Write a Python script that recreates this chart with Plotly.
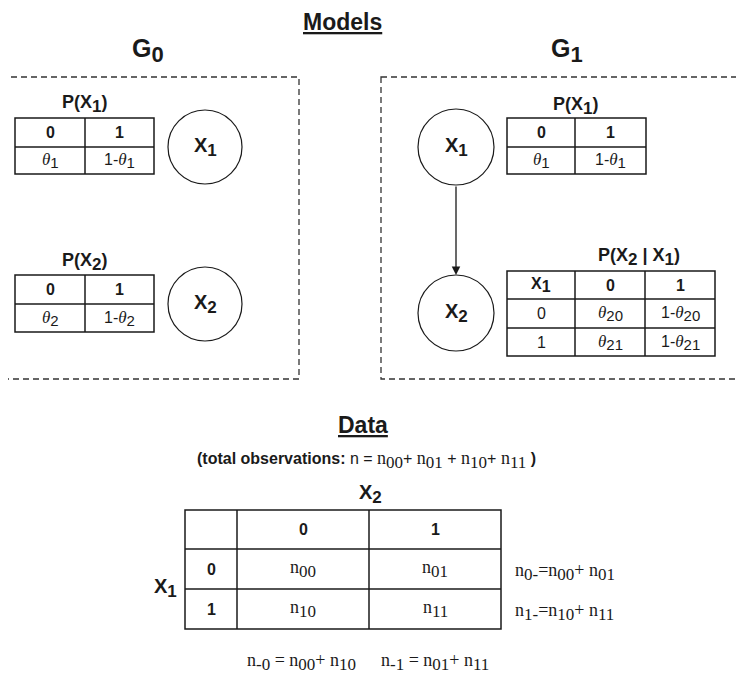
import plotly.graph_objects as go

SANS = "Liberation Sans, Arial, sans-serif"
SERIF = "Liberation Serif, Times New Roman, serif"
INK = "#1a1a1a"
PAGE_PAD = 8  # browser body margin


def sub(s, size=None):
    if size:
        return f'<sub><span style="font-size:{size}px">{s}</span></sub>'
    return f"<sub>{s}</sub>"


def theta(idx, one_minus=False):
    t = f'<span style="font-family:{SERIF};font-size:17px"><i>θ</i></span>{sub(idx, 15)}'
    return ("1-" + t) if one_minus else t


def nn(idx):
    return f'<span style="font-family:{SERIF};font-size:18px">n{sub(idx, 17)}</span>'


# ---- content ----
binary_header = ["<b>0</b>", "<b>1</b>"]
g0_x1_params = [theta("1"), theta("1", True)]
g0_x2_params = [theta("2"), theta("2", True)]
g1_x1_params = [theta("1"), theta("1", True)]
cpt_header = [f"<b>X{sub('1', 16)}</b>", "<b>0</b>", "<b>1</b>"]
cpt_rows = [
    ["0", theta("20"), theta("20", True)],
    ["1", theta("21"), theta("21", True)],
]
count_header = ["", "<b>0</b>", "<b>1</b>"]
count_rows = [
    ["<b>0</b>", nn("00"), nn("01")],
    ["<b>1</b>", nn("10"), nn("11")],
]
row_totals = [
    f"{nn('0-')}={nn('00')}+ {nn('01')}",
    f"{nn('1-')}={nn('10')}+ {nn('11')}",
]
col_totals = [
    f"{nn('-0')} = {nn('00')}+ {nn('10')}",
    f"{nn('-1')} = {nn('01')}+ {nn('11')}",
]
total_line = (f"<b>(total observations:</b> n = "
              f'{nn("00")}+ {nn("01")} + {nn("10")}+ {nn("11")} <b>)</b>')

fig = go.Figure()
shapes = []
annotations = []


def label(x, y, text, size=14, family=SANS, xanchor="center", yanchor="middle"):
    annotations.append(dict(x=x, y=y, xref="x", yref="y", text=text, showarrow=False,
                            xanchor=xanchor, yanchor=yanchor,
                            font=dict(size=size, family=family, color=INK)))


def table(xs, ys, rows, size=16):
    shapes.append(dict(type="rect", x0=xs[0], x1=xs[-1], y0=ys[0], y1=ys[-1],
                       line=dict(color=INK, width=1.5)))
    for x in xs[1:-1]:
        shapes.append(dict(type="line", x0=x, x1=x, y0=ys[0], y1=ys[-1],
                           line=dict(color=INK, width=1.5)))
    for y in ys[1:-1]:
        shapes.append(dict(type="line", x0=xs[0], x1=xs[-1], y0=y, y1=y,
                           line=dict(color=INK, width=1.5)))
    for r, row in enumerate(rows):
        for c, txt in enumerate(row):
            if txt:
                label((xs[c] + xs[c + 1]) / 2, (ys[r] + ys[r + 1]) / 2, txt, size)


def node(cx, cy, r, text):
    shapes.append(dict(type="circle", x0=cx - r, x1=cx + r, y0=cy - r, y1=cy + r,
                       line=dict(color=INK, width=1.2)))
    label(cx, cy, f"<b>X{sub(text, 17)}</b>", 20)


# dashed model boxes
for x0, x1 in [(1, 299), (381, 742)]:
    shapes.append(dict(type="rect", x0=x0, x1=x1, y0=77, y1=379,
                       line=dict(color="#333333", width=1.3, dash="6px,4px")))

label(342, 22, "<b><u>Models</u></b>", 23)
label(148, 50, f"<b>G{sub('0', 22)}</b>", 25)
label(567, 50, f"<b>G{sub('1', 22)}</b>", 25)

# G0
label(84, 104, f"<b>P(X{sub('1', 17)})</b>", 18)
table([15, 85, 154], [118, 147, 174], [binary_header, g0_x1_params])
node(205, 147, 37, "1")
label(84, 262, f"<b>P(X{sub('2', 17)})</b>", 18)
table([15, 85, 154], [275, 304, 332], [binary_header, g0_x2_params])
node(205, 304, 37, "2")

# G1
node(456, 147, 38, "1")
node(456, 313, 38, "2")
annotations.append(dict(x=456, y=275, ax=456, ay=185, xref="x", yref="y", axref="x", ayref="y",
                        text="", showarrow=True, arrowhead=2, arrowsize=1.3, arrowwidth=1.3,
                        arrowcolor=INK))
label(575, 106, f"<b>P(X{sub('1', 17)})</b>", 18)
table([507, 575, 646], [118, 147, 174], [binary_header, g1_x1_params])
label(639, 257, f"<b>P(X{sub('2', 17)} | X{sub('1', 17)})</b>", 18)
table([507, 575, 645, 715], [271, 299, 328, 356], [cpt_header] + cpt_rows)

# Data
label(363, 425, "<b><u>Data</u></b>", 23)
label(366, 460, total_line, 16)
label(370, 494, f"<b>X{sub('2', 17)}</b>", 20)
label(165, 588, f"<b>X{sub('1', 17)}</b>", 20)
table([185, 237, 369, 501], [510, 549, 589, 629], [count_header] + count_rows, size=16)
for y, txt in zip([572, 612], row_totals):
    label(513, y, txt, 18, SERIF, xanchor="left")
for x, txt in zip([301, 435], col_totals):
    label(x, 662, txt, 18, SERIF)

fig.update_layout(
    width=744, height=684,
    margin=dict(l=0, r=0, t=0, b=0),
    paper_bgcolor="white", plot_bgcolor="white",
    xaxis=dict(range=[PAGE_PAD, 744 + PAGE_PAD], visible=False),
    yaxis=dict(range=[684 + PAGE_PAD, PAGE_PAD], visible=False),
    shapes=shapes, annotations=annotations,
    showlegend=False,
)
fig.write_html("out.html")
